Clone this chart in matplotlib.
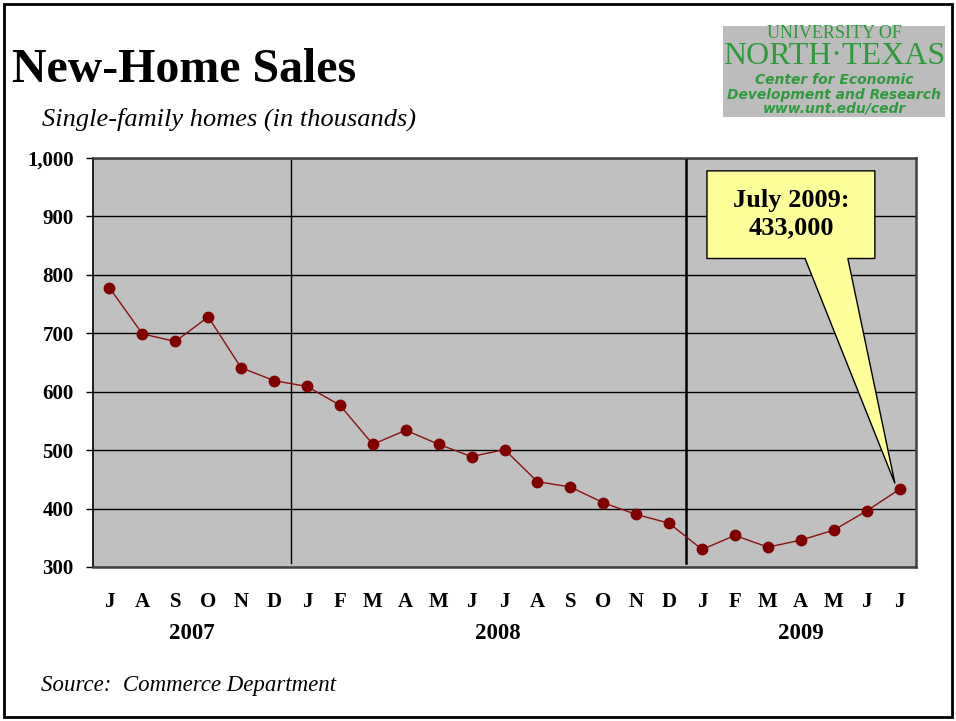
import matplotlib
matplotlib.use("Agg")
from matplotlib import pyplot as plt
from matplotlib.patches import Rectangle, Polygon
import numpy as np

plt.rcParams['font.family'] = ['Liberation Serif', 'DejaVu Serif']

# monthly new-home sales, thousands, Jul 2007 - Jul 2009
months = ["J", "A", "S", "O", "N", "D",
          "J", "F", "M", "A", "M", "J", "J", "A", "S", "O", "N", "D",
          "J", "F", "M", "A", "M", "J", "J"]
years = [2007] * 6 + [2008] * 12 + [2009] * 7
sales = [778, 699, 686, 728, 641, 619,
         609, 577, 510, 534, 510, 489, 501, 446, 437, 410, 390, 375,
         330, 354, 334, 346, 363, 396, 433]
yticks = [300, 400, 500, 600, 700, 800, 900, 1000]
callout = "July 2009:\n433,000"

fig = plt.figure(figsize=(9.56, 7.21), dpi=100)
ax = fig.add_axes([93 / 956, 1 - 567 / 721, 823 / 956, 409 / 721])

x = np.arange(len(sales))
ax.set_facecolor("#c0c0c0")
ax.plot(x, sales, color="#8b1010", lw=1.0, marker="o", ms=7.5,
        mfc="#800000", mec="#800000", zorder=4)

ax.set_xlim(-0.5, len(sales) - 0.5)
ax.set_ylim(300, 1000)
ax.set_yticks(yticks)
ax.set_yticklabels([f"{v:,}" for v in yticks], fontsize=15, fontweight="bold")
ax.set_xticks(x)
ax.set_xticklabels(months, fontsize=15, fontweight="bold")
ax.tick_params(axis="x", length=0, pad=18)
ax.tick_params(axis="y", length=5, width=1, pad=9, direction="out")
ax.yaxis.grid(True, color="black", lw=1)
ax.set_axisbelow(True)
for s in ["top", "right", "bottom"]:
    ax.spines[s].set_color("#404040")
    ax.spines[s].set_linewidth(1.8)
ax.spines["left"].set_color("black")
ax.spines["left"].set_linewidth(1.2)

# year separators and year labels
yrs = np.array(years)
for i in range(1, len(yrs)):
    if yrs[i] != yrs[i - 1]:
        ax.axvline(i - 0.5, ymin=0.01, ymax=0.995, color="black",
                   lw=1.0 if i < 10 else 1.8, zorder=3)
for y in sorted(set(years)):
    idx = np.where(yrs == y)[0]
    ax.text(idx.mean() + (0.3 if y == 2008 else 0), -0.163, str(y),
            transform=ax.get_xaxis_transform(), ha="center", va="center",
            fontsize=16.5, fontweight="bold")

# callout box with pointer to last point
tx, ty = x[-1] - 0.14, sales[-1] + 10
bx0, bx1, by0, by1 = 18.15, 23.25, 828, 978
poly = Polygon([(bx0, by1), (bx1, by1), (bx1, by0), (22.43, by0), (tx, ty),
                (21.13, by0), (bx0, by0)], closed=True,
               facecolor="#ffff99", edgecolor="black", lw=1.0, zorder=5)
ax.add_patch(poly)
ax.text((bx0 + bx1) / 2, (by0 + by1) / 2 + 1, callout, ha="center",
        va="center", fontsize=19, fontweight="bold", linespacing=1.25,
        zorder=6)

# titles
fig.text(12 / 956, 1 - 70 / 721, "New-Home Sales", fontsize=34.5,
         fontweight="bold", va="center", ha="left")
fig.text(42 / 956, 1 - 119 / 721, "Single-family homes (in thousands)",
         fontsize=19, style="italic", va="center", ha="left")
fig.text(41 / 956, 1 - 685 / 721, "Source:  Commerce Department",
         fontsize=16.5, style="italic", va="center", ha="left")

# logo block
fig.patches.append(Rectangle((723 / 956, 1 - 117 / 721), 222 / 956, 91 / 721,
                             transform=fig.transFigure, facecolor="#bcbcbc",
                             edgecolor="none"))
green = "#2f9a3c"
cx = 834 / 956
fig.text(cx, 1 - 34 / 721, "UNIVERSITY OF", color=green, fontsize=13,
         ha="center", va="center")
fig.text(cx, 1 - 57 / 721, "NORTH\u00b7TEXAS", color=green, fontsize=23,
         ha="center", va="center")
sans = ["DejaVu Sans"]
fig.text(cx, 1 - 80 / 721, "Center for Economic", color=green, fontsize=10,
         family=sans, fontweight="bold", style="italic", ha="center", va="center")
fig.text(cx, 1 - 95 / 721, "Development and Research", color=green,
         fontsize=10, family=sans, fontweight="bold", style="italic",
         ha="center", va="center")
fig.text(cx, 1 - 109 / 721, "www.unt.edu/cedr", color=green, fontsize=10,
         family=sans, fontweight="bold", style="italic", ha="center", va="center")

# outer frame
fig.patches.append(Rectangle((4 / 956, 4 / 721), 948 / 956, 713 / 721,
                             transform=fig.transFigure, fill=False,
                             edgecolor="black", lw=2))

fig.savefig("out.png", dpi=100)
